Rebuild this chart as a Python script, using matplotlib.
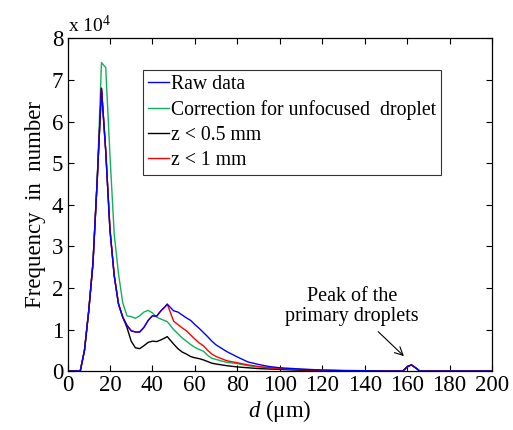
import matplotlib
matplotlib.use('Agg')
import matplotlib.pyplot as plt

plt.rcParams['font.family'] = ['Liberation Serif', 'DejaVu Serif']
plt.rcParams['mathtext.fontset'] = 'custom'
plt.rcParams['mathtext.rm'] = 'Liberation Serif'
plt.rcParams['mathtext.it'] = 'Liberation Serif:italic'

# droplet diameter (um)
d = [0, 2, 4, 6, 8, 10, 12, 14, 16, 18, 20, 22, 24, 26, 28, 30, 32, 34, 36, 38,
     40, 42, 44, 46, 47, 50, 52, 54, 56, 58, 60, 62, 64, 66, 68, 70, 75, 80, 85,
     90, 95, 100, 110, 120, 130, 140, 150, 158, 160, 162, 164, 166, 170, 200]

# frequency (x 10^4)
raw = [0, 0, 0, 0, 0.5, 1.45, 2.6, 4.6, 6.8, 5.3, 3.4, 2.3, 1.62, 1.3, 1.1, 0.97, 0.94, 0.94, 1.05, 1.22,
       1.33, 1.32, 1.45, 1.55, 1.61, 1.45, 1.42, 1.35, 1.28, 1.22, 1.12, 1.03, 0.93, 0.83, 0.72, 0.63, 0.47, 0.34, 0.22,
       0.16, 0.11, 0.08, 0.05, 0.025, 0.015, 0.01, 0, 0, 0.1, 0.15, 0.08, 0, 0, 0]
corrected = [0, 0, 0, 0, 0.5, 1.45, 2.6, 4.6, 7.42, 7.3, 5.2, 3.3, 2.35, 1.65, 1.33, 1.31, 1.27, 1.33, 1.42, 1.46,
             1.4, 1.3, 1.25, 1.21, 1.19, 1.0, 0.9, 0.8, 0.72, 0.64, 0.57, 0.52, 0.48, 0.38, 0.31, 0.28, 0.21, 0.18, 0.13,
             0.1, 0.08, 0.06, 0.04, 0.02, 0.01, 0.005, 0, 0, 0.1, 0.15, 0.08, 0, 0, 0]
z05 = [0, 0, 0, 0, 0.5, 1.45, 2.6, 4.6, 6.8, 5.3, 3.4, 2.3, 1.62, 1.3, 1.05, 0.72, 0.56, 0.54, 0.61, 0.69,
       0.72, 0.71, 0.75, 0.8, 0.83, 0.65, 0.54, 0.46, 0.41, 0.35, 0.32, 0.3, 0.27, 0.23, 0.19, 0.17, 0.13, 0.1, 0.08,
       0.06, 0.05, 0.04, 0.02, 0.01, 0.005, 0, 0, 0, 0.1, 0.15, 0.08, 0, 0, 0]
z1 = [0, 0, 0, 0, 0.5, 1.45, 2.6, 4.6, 6.8, 5.3, 3.4, 2.3, 1.62, 1.3, 1.1, 0.97, 0.94, 0.94, 1.05, 1.22,
      1.33, 1.32, 1.45, 1.55, 1.61, 1.2, 1.12, 1.04, 0.97, 0.87, 0.77, 0.68, 0.61, 0.5, 0.41, 0.35, 0.25, 0.2, 0.15,
      0.11, 0.08, 0.06, 0.035, 0.02, 0.01, 0.005, 0, 0, 0.1, 0.15, 0.08, 0, 0, 0]

fig = plt.figure(figsize=(5.13, 4.30), dpi=100)
ax = fig.add_axes([0.1316, 0.137, 0.8274, 0.7735])

l_corr, = ax.plot(d, corrected, color='#12b05a', lw=1.0, label='Correction for unfocused  droplet')
l_z05, = ax.plot(d, z05, color='black', lw=1.0, label='z < 0.5 mm')
l_z1, = ax.plot(d, z1, color='#ff0000', lw=1.0, label='z < 1 mm')
l_raw, = ax.plot(d, raw, color='#0000ff', lw=1.0, label='Raw data')

ax.set_xlim(0, 200)
ax.set_ylim(0, 8)
ax.set_xticks(range(0, 201, 20))
ax.set_yticks(range(0, 9))
ax.tick_params(direction='in', top=True, right=True, length=4, labelsize=16.5, pad=3)
for s in ax.spines.values():
    s.set_linewidth(0.9)

ax.set_xlabel(r'$d$ (μm)', fontsize=16.5, labelpad=1)
ax.set_ylabel('Frequency  in  number', fontsize=16.5, labelpad=4)
ax.text(0.0, 1.008, r'x 10$^{4}$', transform=ax.transAxes, fontsize=14, ha='left', va='bottom')

leg = ax.legend(handles=[l_raw, l_corr, l_z05, l_z1], loc='upper left',
                bbox_to_anchor=(0.178, 0.905), fontsize=14.2, frameon=True, fancybox=False,
                edgecolor='black', handlelength=1.05, handletextpad=0.12, borderpad=0.25,
                labelspacing=0.3, borderaxespad=0)
leg.get_frame().set_linewidth(0.8)

ax.annotate('Peak of the\nprimary droplets', xy=(158.5, 0.36), xytext=(134, 1.55),
            fontsize=14.5, ha='center', va='center', linespacing=1.05,
            arrowprops=dict(arrowstyle='->', color='black', lw=0.8, shrinkA=3, shrinkB=0))

fig.savefig('out.png', dpi=100)
